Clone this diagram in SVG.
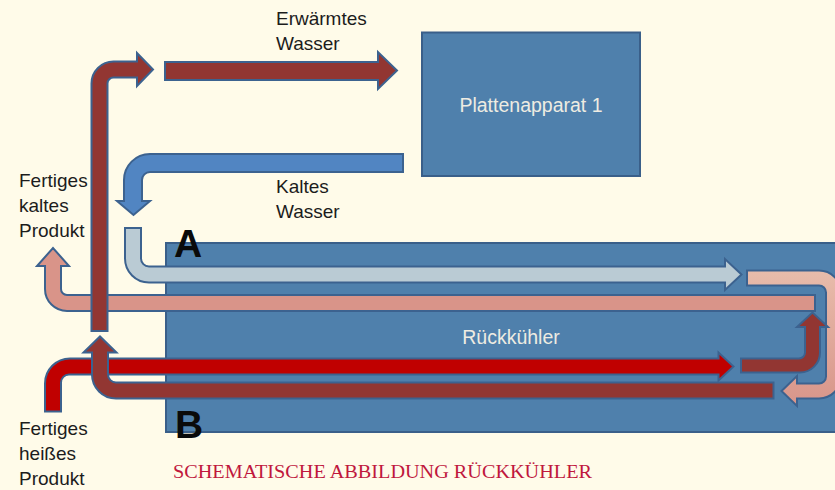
<svg xmlns="http://www.w3.org/2000/svg" width="835" height="490" viewBox="0 0 835 490">
<defs>
<style>
.lbl{font-family:"Liberation Sans",Arial,sans-serif;font-size:19px;fill:#1c1c1c}
.box{fill:#4f80ac;stroke:#3a5f89;stroke-width:2}
.boxtxt{font-family:"Liberation Sans",Arial,sans-serif;font-size:19.5px;fill:#eeece2}
.big{font-family:"Liberation Sans",Arial,sans-serif;font-size:39px;font-weight:bold;fill:#0a0a0a}
.cap{font-family:"Liberation Serif","Times New Roman",serif;font-size:19px;fill:#c0173d}
.ar{stroke:#3c628f;stroke-width:2;stroke-linejoin:miter}
.dred{fill:#923632}
.red{fill:#c00000}
.blue{fill:#5185c2}
.lblue{fill:#bacbd4}
.pink{fill:#d99489}
.lpink{fill:url(#gp)}
</style>
<linearGradient id="gp" x1="0" y1="0" x2="0" y2="1">
<stop offset="0" stop-color="#e8bcab"/>
<stop offset="1" stop-color="#d8958a"/>
</linearGradient>
</defs>
<rect width="835" height="490" fill="#fffbe9"/>
<g id="rueckkuehler">
<rect class="box" x="166" y="243" width="690" height="189"/>
<text class="boxtxt" x="511" y="344" text-anchor="middle">Rückkühler</text>
</g>
<g id="plattenapparat">
<rect class="box" x="422" y="32.5" width="218" height="143.5"/>
<text class="boxtxt" x="531" y="111.5" text-anchor="middle">Plattenapparat 1</text>
</g>
<g id="connectors">
<path id="erwaermt" class="ar dred" d="M165 62 H378 V52 L397 70.5 L378 89 V80 H165 Z"/>
<path id="kalt" class="ar blue" d="M403 154 H150 A26 26 0 0 0 124 180 V201 H117 L133.5 215 L150 201 H142 V180 A8 8 0 0 1 150 172 H403 Z"/>
<path id="a-in" class="ar lblue" d="M125 228 V258.5 A24 24 0 0 0 149 282.5 H725 V290 L741.5 274.5 L725 259 V266.5 H149 A8 8 0 0 1 141 258.5 V228 Z"/>
<path id="kalt-out" class="ar pink" d="M815 295 H67 A6 6 0 0 1 61 289 V266 H69 L53 248 L37 266 H45 V289 A22 22 0 0 0 67 311 H815 Z"/>
<path id="aufwaerts" class="ar dred" d="M91.5 331 V83.5 A22 22 0 0 1 113.5 61.5 H137 V53 L153 69.5 L137 86 V77.5 H113.5 A6 6 0 0 0 107.5 83.5 V331 Z"/>
<path id="heiss-in" class="ar red" d="M45 411.5 V383.5 A25 25 0 0 1 70 358.5 H718.5 V352.5 L733.5 366.5 L718.5 380.5 V374.5 H69 A8 8 0 0 0 61 382.5 V411.5 Z"/>
<path id="b-out" class="ar dred" d="M773.5 382.5 H116 A8 8 0 0 1 108 374.5 V352.5 H116.5 L100 336.5 L83.5 352.5 H92 V374.5 A24 24 0 0 0 116 398.5 H773.5 Z"/>
<path id="umlenk" class="ar lpink" d="M747 270.5 H819 A22 22 0 0 1 841 292.5 V376.5 A22 22 0 0 1 819 398.5 H797 V406 L781.5 391 L797 376 V383.5 H819 A7 7 0 0 0 826 376.5 V292.5 A7 7 0 0 0 819 285.5 H747 Z"/>
<path id="umlenk2" class="ar dred" d="M741 358.5 H799 A6 6 0 0 0 805 352.5 V327 H797 L812.5 312.5 L828 327 H820 V352.5 A20 20 0 0 1 800 372.5 H741 Z"/>
</g>
<g id="labels">
<text class="lbl" x="276" y="25">Erwärmtes</text>
<text class="lbl" x="276" y="50">Wasser</text>
<text class="lbl" x="276" y="193">Kaltes</text>
<text class="lbl" x="276" y="218">Wasser</text>
<text class="lbl" x="19" y="187">Fertiges</text>
<text class="lbl" x="19" y="212">kaltes</text>
<text class="lbl" x="19" y="237">Produkt</text>
<text class="lbl" x="19" y="435">Fertiges</text>
<text class="lbl" x="19" y="460">heißes</text>
<text class="lbl" x="19" y="485">Produkt</text>
<text class="big" x="174" y="257">A</text>
<text class="big" x="175" y="438">B</text>
<text class="cap" x="173" y="478" textLength="419" lengthAdjust="spacingAndGlyphs">SCHEMATISCHE ABBILDUNG RÜCKKÜHLER</text>
</g>
</svg>
